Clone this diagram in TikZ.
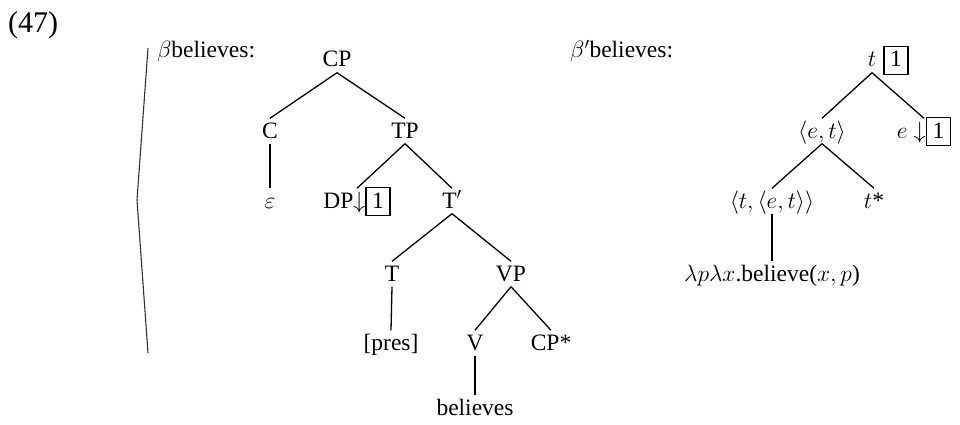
\RequirePackage{fix-cm}
\documentclass[tikz,border=0pt]{standalone}
\usepackage{fontspec}
\setmainfont{Liberation Serif}
\newcommand\numbox[1]{{\setlength{\fboxsep}{0pt}\setlength{\fboxrule}{1.4pt}\fbox{\hspace{5.5pt}\rule[-7pt]{0pt}{27pt}#1\hspace{5.5pt}}}}
\tikzset{
  tn/.style={anchor=base, text height=17pt, text depth=3pt, inner sep=2.5pt},
  lbl/.style={anchor=base west, inner sep=0pt},
  br/.style={draw, line width=1.3pt},
}
\begin{document}
\begin{tikzpicture}[x=1pt, y=-1pt, font=\fontsize{23.5}{28}\selectfont]
\useasboundingbox (0,0) rectangle (960,425);
\def\yA{67}\def\yB{138}\def\yC{208}\def\yD{281}\def\yE{350}\def\yF{415}
% labels
\node[lbl, font=\fontsize{30}{34}\selectfont] (num) at (8,33) {(47)};
\node[lbl] (lab1) at (157,58) {$\beta$believes:};
\node[lbl] (lab2) at (570,58) {$\beta'$believes:};
% bracket
\draw[black!80, line width=1.1pt] (148,48) -- (137,200) -- (148,353);
% left tree
\node[tn] (cp) at (337,\yA) {CP};
\node[tn] (c) at (270,\yB) {C};
\node[tn] (tp) at (405,\yB) {TP};
\node[tn] (eps) at (270,\yC) {$\varepsilon$};
\node[tn] (dp) at (357,\yC) {DP$\downarrow$\numbox{1}};
\node[tn] (tbar) at (452,\yC) {T$'$};
\node[tn] (t) at (392,\yD) {T};
\node[tn] (vp) at (511,\yD) {VP};
\node[tn] (pres) at (391,\yE) {[pres]};
\node[tn] (v) at (475,\yE) {V};
\node[tn] (cpstar) at (551,\yE) {CP*};
\node[tn] (bel) at (475,\yF) {believes};
\draw[br] (cp.south) -- (c.north);
\draw[br] (cp.south) -- (tp.north);
\draw[br] (c.south) -- (eps.north);
\draw[br] (tp.south) -- (dp.north);
\draw[br] (tp.south) -- (tbar.north);
\draw[br] (tbar.south) -- (t.north);
\draw[br] (tbar.south) -- (vp.north);
\draw[br] (t.south) -- (pres.north);
\draw[br] (vp.south) -- (v.north);
\draw[br] (vp.south) -- (cpstar.north);
\draw[br] (v.south) -- (bel.north);
% right tree
\node[tn] (troot) at (872,\yA) {$t$};
\node[anchor=base west, inner sep=0pt] (trootbox) at (883,\yA) {\numbox{1}};
\node[tn] (et) at (822,\yB) {$\langle e,t\rangle$};
\node[tn] (e1) at (924,\yB) {$e\downarrow$\numbox{1}};
\node[tn] (tet) at (772,\yC) {$\langle t,\langle e,t\rangle\rangle$};
\node[tn] (tstar) at (874,\yC) {$t$*};
\node[tn] (lam) at (772,\yD) {$\lambda p\lambda x$.believe($x,p$)};
\draw[br] (troot.south) -- (et.north);
\draw[br] (troot.south) -- (e1.north);
\draw[br] (et.south) -- (tet.north);
\draw[br] (et.south) -- (tstar.north);
\draw[br] (tet.south) -- (lam.north);
\end{tikzpicture}
\end{document}
